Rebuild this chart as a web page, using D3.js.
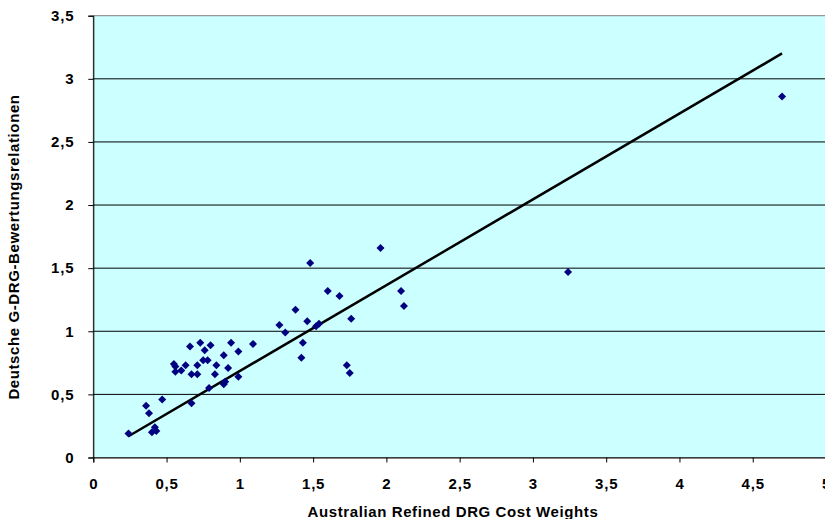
<!DOCTYPE html>
<html>
<head>
<meta charset="utf-8">
<script src="https://cdn.jsdelivr.net/npm/d3@7"></script>
<style>
  body { margin: 0; background: #fff; }
  text { font-family: "Liberation Sans", Arial, sans-serif; font-weight: bold; }
</style>
</head>
<body>
<div class="plot-container"></div>
<script>
// data
const costWeights = [0.24, 0.36, 0.38, 0.47, 0.40, 0.43, 0.42, 0.67, 0.79, 0.89, 0.90, 0.99,
  0.55, 0.56, 0.56, 0.60, 0.63, 0.67, 0.71, 0.66, 0.71, 0.73, 0.76, 0.80, 0.75, 0.78,
  0.84, 0.83, 0.89, 0.92, 0.94, 0.99, 1.09, 1.27, 1.31, 1.38, 1.48, 1.46, 1.43, 1.42,
  1.52, 1.54, 1.60, 1.68, 1.76, 1.73, 1.75, 1.96, 2.10, 2.12, 3.24, 4.70];
const relations = [0.19, 0.41, 0.35, 0.46, 0.20, 0.21, 0.24, 0.43, 0.55, 0.58, 0.60, 0.64,
  0.74, 0.72, 0.68, 0.69, 0.73, 0.66, 0.66, 0.88, 0.73, 0.91, 0.85, 0.89, 0.77, 0.77,
  0.73, 0.66, 0.81, 0.71, 0.91, 0.84, 0.90, 1.05, 0.99, 1.17, 1.54, 1.08, 0.91, 0.79,
  1.04, 1.06, 1.32, 1.28, 1.10, 0.73, 0.67, 1.66, 1.32, 1.20, 1.47, 2.86];
const trendSlope = 0.68;
const trendIntercept = 0.005;
const xTicks = [0, 0.5, 1, 1.5, 2, 2.5, 3, 3.5, 4, 4.5, 5];
const yTicks = [0, 0.5, 1, 1.5, 2, 2.5, 3, 3.5];

const width = 825, height = 519;
const margin = { left: 93.3, top: 15.7, right: -1, bottom: 61.5 };
const fmt = (v) => String(v).replace('.', ',');

const svg = d3.select('div.plot-container').append('svg')
  .attr('width', width).attr('height', height);

const x = d3.scaleLinear().domain([0, 5]).range([margin.left, width - margin.right]);
const y = d3.scaleLinear().domain([0, 3.5]).range([height - margin.bottom, margin.top]);

// plot area
svg.append('rect')
  .attr('x', x(0)).attr('y', y(3.5))
  .attr('width', x(5) - x(0)).attr('height', y(0) - y(3.5))
  .attr('fill', '#ccffff').attr('stroke', '#808080');

// gridlines
svg.append('g').selectAll('line')
  .data(yTicks.filter((t) => t > 0 && t < 3.5))
  .join('line')
  .attr('x1', x(0)).attr('x2', x(5))
  .attr('y1', (d) => y(d)).attr('y2', (d) => y(d))
  .attr('stroke', '#000').attr('stroke-width', 1);

// axes
const xAxis = svg.append('g')
  .attr('transform', `translate(0,${y(0)})`)
  .call(d3.axisBottom(x).tickValues(xTicks).tickFormat(fmt).tickSize(5).tickPadding(10));
const yAxis = svg.append('g')
  .attr('transform', `translate(${x(0)},0)`)
  .call(d3.axisLeft(y).tickValues(yTicks).tickFormat(fmt).tickSize(5).tickPadding(14));
[xAxis, yAxis].forEach((g) => {
  g.select('.domain').attr('stroke', '#000');
  g.selectAll('.tick line').attr('stroke', '#000');
  g.selectAll('.tick text').attr('font-size', 15).attr('fill', '#000')
    .attr('letter-spacing', 0.8)
    .attr('font-family', '"Liberation Sans", Arial, sans-serif').attr('font-weight', 'bold');
});
xAxis.selectAll('.tick text').attr('y', 31).attr('dy', 0);

// trend line
const xMin = d3.min(costWeights), xMax = d3.max(costWeights);
svg.append('line')
  .attr('x1', x(xMin)).attr('y1', y(trendSlope * xMin + trendIntercept))
  .attr('x2', x(xMax)).attr('y2', y(trendSlope * xMax + trendIntercept))
  .attr('stroke', '#000').attr('stroke-width', 2.5);

// points
const points = costWeights.map((cw, i) => ({ cw: cw, rel: relations[i] }));
svg.append('g').selectAll('path')
  .data(points)
  .join('path')
  .attr('transform', (d) => `translate(${x(d.cw)},${y(d.rel)})`)
  .attr('d', 'M0,-4L4,0L0,4L-4,0Z')
  .attr('fill', '#000080');

// axis titles
svg.append('text')
  .attr('x', 453).attr('y', 517)
  .attr('text-anchor', 'middle').attr('font-size', 15).attr('letter-spacing', 0.6)
  .text('Australian Refined DRG Cost Weights');
svg.append('text')
  .attr('transform', 'translate(19,247) rotate(-90)')
  .attr('text-anchor', 'middle').attr('font-size', 15).attr('letter-spacing', 0.6)
  .text('Deutsche G-DRG-Bewertungsrelationen');
</script>
</body>
</html>
